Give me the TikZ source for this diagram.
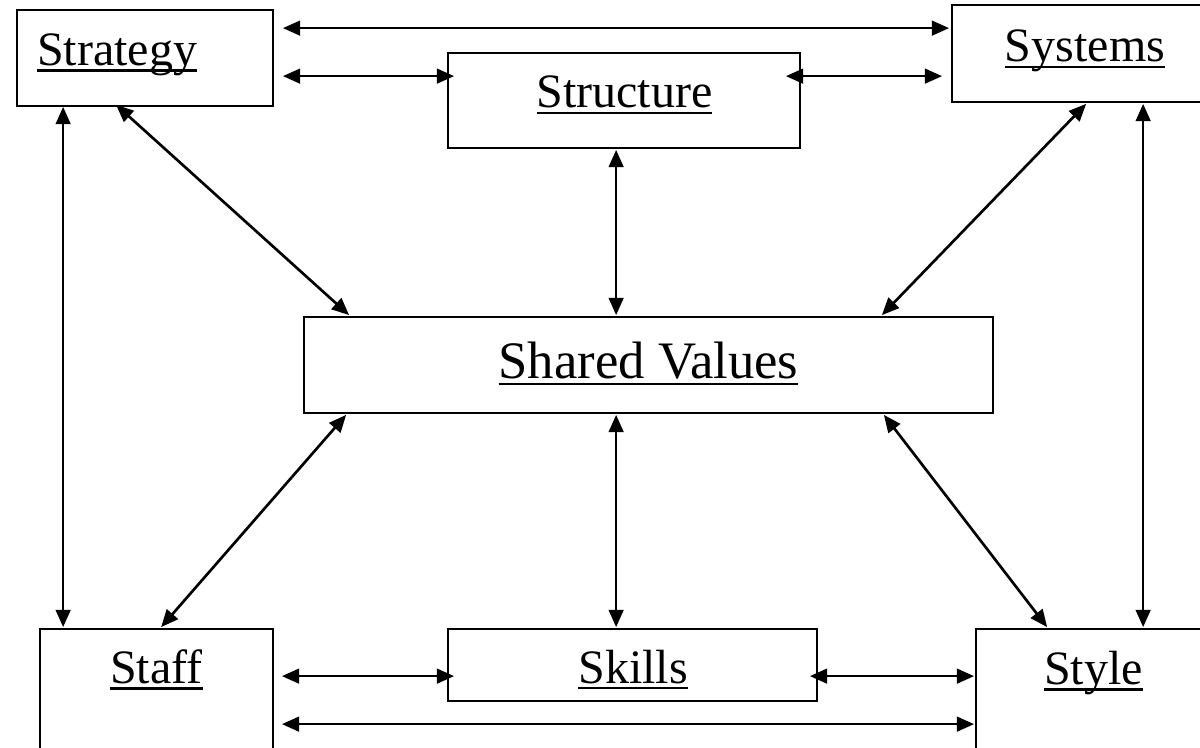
\documentclass[tikz,border=0pt]{standalone}
\usepackage{fontspec}
\setmainfont{Liberation Serif}
\usetikzlibrary{arrows.meta}
\newcommand{\wul}[1]{\setbox0=\hbox{#1}\rlap{\rule[-4.8pt]{\wd0}{2.1pt}}\box0}
\begin{document}
\begin{tikzpicture}[x=0.75pt,y=-0.75pt,
  box/.style={draw, line width=1.3pt, rectangle, inner sep=0pt},
  lbl/.style={inner sep=0pt, anchor=base, font=\fontsize{36}{40}\selectfont},
  arr/.style={line width=2pt, >={Triangle[length=13pt,width=11pt]}, <->}]
\useasboundingbox (0,0) rectangle (1200,748);
\clip (0,0) rectangle (1200,748);
% boxes
\node[box, minimum width=192pt, minimum height=72pt] (strategy) at (145,58) {};
\node[box, minimum width=264pt, minimum height=71.25pt] (structure) at (624,100.5) {};
\node[box, minimum width=199.5pt, minimum height=72.75pt] (systems) at (1085,53.5) {};
\node[box, minimum width=516.75pt, minimum height=72pt] (shared) at (648.5,365) {};
\node[box, minimum width=174.75pt, minimum height=127.5pt] (staff) at (156.5,714) {};
\node[box, minimum width=276.75pt, minimum height=54pt] (skills) at (632.5,665) {};
\node[box, minimum width=176.25pt, minimum height=127.5pt] (style) at (1093.5,714) {};
% labels
\node[lbl] (strategy-t) at ([shift={(-28,7.5)}]strategy.center) {\wul{Strategy}};
\node[lbl] (structure-t) at ([shift={(0.5,7.5)}]structure.center) {\wul{Structure}};
\node[lbl] (systems-t) at ([shift={(0,8.5)}]systems.center) {\wul{Systems}};
\node[lbl, font=\fontsize{39.5}{44}\selectfont] (shared-t) at ([shift={(0,14)}]shared.center) {\wul{Shared Values}};
\node[lbl] (staff-t) at ([shift={(0,55)}]staff.north) {\wul{Staff}};
\node[lbl] (skills-t) at ([shift={(0.5,18)}]skills.center) {\wul{Skills}};
\node[lbl] (style-t) at ([shift={(0,56)}]style.north) {\wul{Style}};
% connectors
\draw[arr] ([shift={(9,19)}]strategy.north east) -- ([shift={(-2,24)}]systems.north west);
\draw[arr] ([shift={(9,67)}]strategy.north east) -- ([shift={(7,24)}]structure.north west);
\draw[arr] ([shift={(-15,24)}]structure.north east) -- ([shift={(-9,72)}]systems.north west);
\draw[arr] ([shift={(47,0)}]strategy.south west) -- ([shift={(24,-1)}]staff.north west);
\draw[arr] ([shift={(100,-2)}]strategy.south west) -- ([shift={(46,-1)}]shared.north west);
\draw[arr] ([shift={(169,1)}]structure.south west) -- ([shift={(313,-1)}]shared.north west);
\draw[arr] ([shift={(135,1)}]systems.south west) -- ([shift={(-112,-1)}]shared.north east);
\draw[arr] ([shift={(192,1)}]systems.south west) -- ([shift={(168,-1)}]style.north west);
\draw[arr] ([shift={(43,1)}]shared.south west) -- ([shift={(122,-1)}]staff.north west);
\draw[arr] ([shift={(313,1)}]shared.south west) -- ([shift={(169,-1)}]skills.north west);
\draw[arr] ([shift={(-110,1)}]shared.south east) -- ([shift={(72,-1)}]style.north west);
\draw[arr] ([shift={(8,48)}]staff.north east) -- ([shift={(7,48)}]skills.north west);
\draw[arr] ([shift={(-8,48)}]skills.north east) -- ([shift={(-1,48)}]style.north west);
\draw[arr] ([shift={(8,96)}]staff.north east) -- ([shift={(-1,96)}]style.north west);
\end{tikzpicture}
\end{document}
